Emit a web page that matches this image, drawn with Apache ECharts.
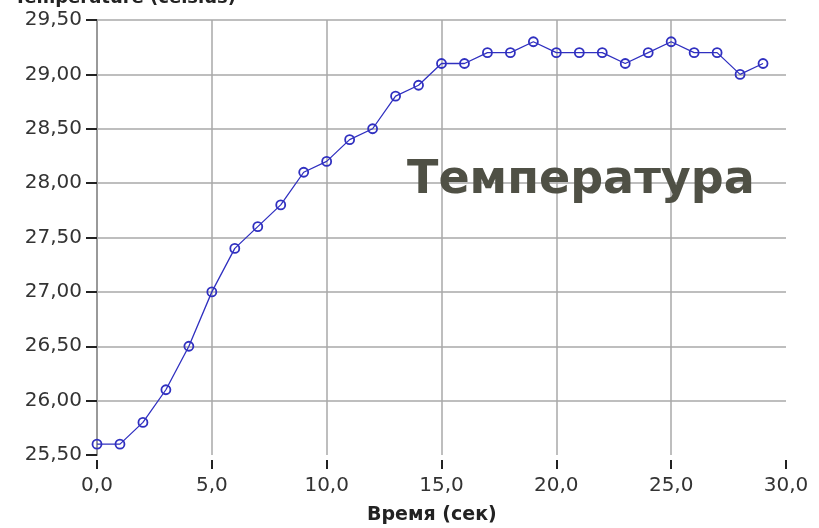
<!DOCTYPE html>
<html><head><meta charset="utf-8">
<script src="https://cdn.jsdelivr.net/npm/echarts@6/dist/echarts.min.js"></script>
<style>html,body{margin:0;padding:0;background:#fff}#c{width:819px;height:528px}</style>
</head><body><div id="c"></div>
<script>
const timeSec = [0,1,2,3,4,5,6,7,8,9,10,11,12,13,14,15,16,17,18,19,20,21,22,23,24,25,26,27,28,29];
const tempC = [25.6,25.6,25.8,26.1,26.5,27.0,27.4,27.6,27.8,28.1,28.2,28.4,28.5,28.8,28.9,29.1,29.1,29.2,29.2,29.3,29.2,29.2,29.2,29.1,29.2,29.3,29.2,29.2,29.0,29.1];
const gridX = [5,10,15,20,25];
const gridY = [26,26.5,27,27.5,28,28.5,29,29.5];
const yTitle = 'Temperature (celsius)';
const xTitle = 'Время (сек)';
const bigLabel = 'Температура';

const chart = echarts.init(document.getElementById('c'), null, {renderer:'canvas'});
const gridLine = {color:'#a8a8a8', width:1.5, type:'solid'};
chart.setOption({
  backgroundColor:'#fff',
  animation:false,
  grid:{left:97, right:33, top:20, bottom:73},
  xAxis:{type:'value', min:0, max:30, interval:5, offset:5,
    axisLine:{show:false},
    axisTick:{show:true, length:9, lineStyle:{color:'#222', width:2}},
    splitLine:{show:false},
    axisLabel:{margin:16, color:'#333', fontSize:20, fontFamily:'DejaVu Sans',
      formatter:v=>v.toFixed(1).replace('.',',')}},
  yAxis:{type:'value', min:25.5, max:29.5, interval:0.5,
    axisLine:{show:true, lineStyle:{color:'#999', width:2}},
    axisTick:{show:true, length:11, lineStyle:{color:'#222', width:2}},
    splitLine:{show:false},
    axisLabel:{margin:15, color:'#333', fontSize:20, fontFamily:'DejaVu Sans',
      formatter:v=>v.toFixed(2).replace('.',',')}},
  series:[{
    type:'line', data:timeSec.map((t,i)=>[t,tempC[i]]),
    lineStyle:{color:'#3030c0', width:1.3},
    symbol:'circle', symbolSize:9,
    itemStyle:{color:'rgba(0,0,0,0)', borderColor:'#3030c0', borderWidth:1.8},
    markLine:{silent:true, symbol:'none', label:{show:false}, lineStyle:gridLine, z:1,
      data:[...gridX.map(v=>({xAxis:v})), ...gridY.map(v=>({yAxis:v}))]},
    z:3
  }],
  graphic:[
    {type:'text', left:367, top:506, style:{text:xTitle, font:'bold 19px "DejaVu Sans"', fill:'#222'}},
    {type:'text', x:236, y:7, style:{text:yTitle, font:'bold 18px "DejaVu Sans"', fill:'#222', align:'right', verticalAlign:'bottom'}},
    {type:'text', left:407, top:158, z:10, style:{text:bigLabel, font:'bold 46px "DejaVu Sans"', fill:'#4f5045'}}
  ]
});
</script></body></html>
